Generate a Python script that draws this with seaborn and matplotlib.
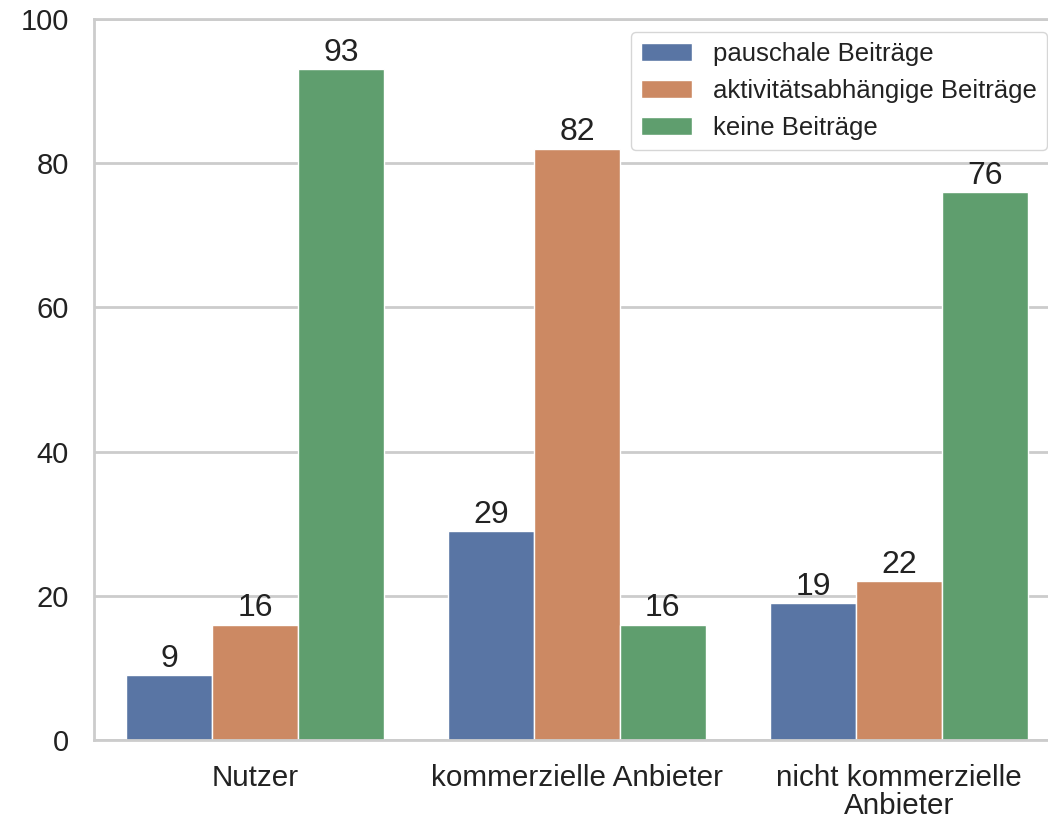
import matplotlib
matplotlib.use("Agg")
import matplotlib.pyplot as plt
import seaborn as sns
import pandas as pd

# Survey results: share of respondents by contribution model
groups = ["Nutzer", "kommerzielle Anbieter", "nicht kommerzielle\nAnbieter"]
series = ["pauschale Beiträge", "aktivitätsabhängige Beiträge", "keine Beiträge"]
pauschal = [9, 29, 19]
aktiv = [16, 82, 22]
keine = [93, 16, 76]

df = pd.DataFrame({
    "Gruppe": groups * 3,
    "Modell": [series[0]] * 3 + [series[1]] * 3 + [series[2]] * 3,
    "Wert": pauschal + aktiv + keine,
})

sns.set_theme(style="whitegrid")
plt.rcParams["font.family"] = ["Liberation Sans", "DejaVu Sans"]

W, H = 1048, 821
fig = plt.figure(figsize=(W / 100, H / 100), dpi=100)
ax = fig.add_axes([94 / W, 1 - 740 / H, (1060 - 94) / W, (740 - 19) / H])

sns.barplot(data=df, x="Gruppe", y="Wert", hue="Modell", order=groups,
            hue_order=series, ax=ax)

for cont in ax.containers:
    ax.bar_label(cont, fontsize=23, padding=1, color="#222222")

ax.set_ylim(0, 100)
ax.set_yticks([0, 20, 40, 60, 80, 100])
ax.set_xlabel("")
ax.set_ylabel("")
ax.tick_params(axis="y", labelsize=21, pad=12, colors="#222222")
ax.tick_params(axis="x", labelsize=21.3, pad=11.5, colors="#222222")
for t in ax.get_xticklabels():
    t.set_linespacing(1.0)
for s in ax.spines.values():
    s.set_color("#cccccc")
    s.set_linewidth(2)
ax.grid(axis="y", color="#cccccc", linewidth=2)
ax.grid(axis="x", visible=False)

leg = ax.legend(loc="upper right", fontsize=18.5, title=None, frameon=True)
leg.get_frame().set_edgecolor("#cccccc")
for t in leg.get_texts():
    t.set_color("#222222")

fig.savefig("out.png", dpi=100)
